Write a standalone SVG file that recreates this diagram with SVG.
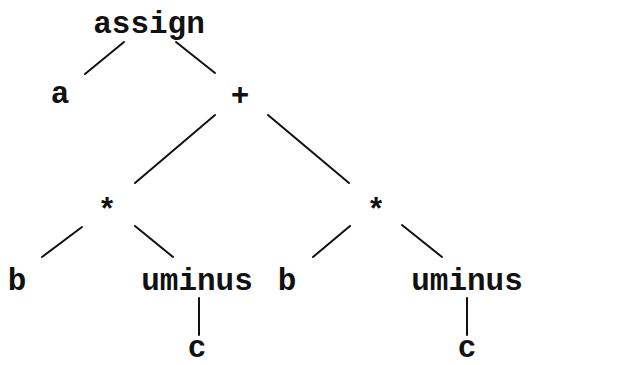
<svg xmlns="http://www.w3.org/2000/svg" width="642" height="365" viewBox="0 0 642 365">
<style>
.t{font-family:"Liberation Mono","Courier New",monospace;font-weight:bold;font-size:31px;fill:#111;text-anchor:middle}
.e{stroke:#111;stroke-width:2;fill:none;stroke-linecap:round}
</style>
<rect width="642" height="365" fill="#fff"/>
<g id="edges">
<line class="e" x1="124" y1="42" x2="85" y2="74"/>
<line class="e" x1="176" y1="42" x2="215" y2="73"/>
<line class="e" x1="215" y1="115" x2="135" y2="183"/>
<line class="e" x1="268" y1="115" x2="349" y2="183"/>
<line class="e" x1="82" y1="227" x2="42" y2="257"/>
<line class="e" x1="135" y1="226" x2="173" y2="257"/>
<line class="e" x1="350" y1="226" x2="313" y2="257"/>
<line class="e" x1="402" y1="225" x2="442" y2="257"/>
<line class="e" x1="199" y1="298" x2="199" y2="335"/>
<line class="e" x1="467" y1="298" x2="467" y2="335"/>
</g>
<g id="n_assign"><text class="t" x="149" y="33">assign</text></g>
<g id="n_a"><text class="t" x="60" y="103">a</text></g>
<g id="n_plus"><text class="t" x="240" y="105">+</text></g>
<g id="n_mul1"><text class="t" x="107" y="220">*</text></g>
<g id="n_mul2"><text class="t" x="376" y="220">*</text></g>
<g id="n_b1"><text class="t" x="17" y="290">b</text></g>
<g id="n_um1"><text class="t" x="197" y="290">uminus</text></g>
<g id="n_b2"><text class="t" x="287" y="290">b</text></g>
<g id="n_um2"><text class="t" x="467" y="290">uminus</text></g>
<g id="n_c1"><text class="t" x="197" y="357">c</text></g>
<g id="n_c2"><text class="t" x="467" y="357">c</text></g>
</svg>
